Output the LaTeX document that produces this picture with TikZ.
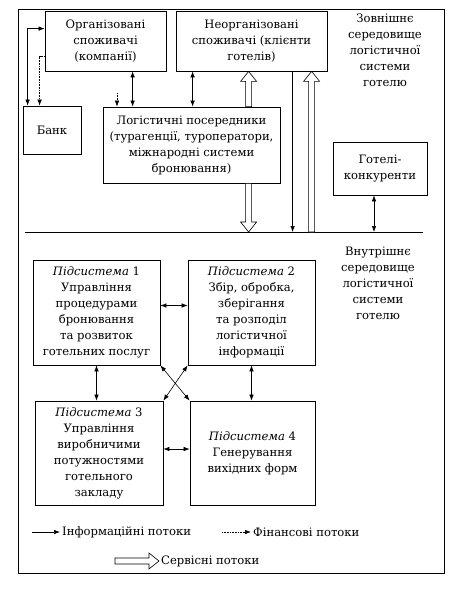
\documentclass[tikz,border=0pt]{standalone}
\usepackage{fontspec}
\setmainfont{DejaVu Serif}
\usetikzlibrary{calc}
\usetikzlibrary{arrows.meta}

\tikzset{
  blok/.style={draw, line width=0.8pt, align=center, inner sep=2pt},
  potik/.style={line width=0.6pt},
  finpotik/.style={line width=0.6pt, densely dotted},
  servis/.style={line width=0.6pt, fill=white},
}
% hollow (service) arrow from #1 to #2
\newcommand{\servisarrow}[2]{%
  \coordinate (sh) at ($(#2)!10pt!(#1)$);
  \draw[servis] ($(#1)!3pt!90:(#2)$) -- ($(sh)!3pt!-90:(#1)$) -- ($(sh)!8pt!-90:(#1)$)
    -- (#2) -- ($(sh)!8pt!90:(#1)$) -- ($(sh)!3pt!90:(#1)$) -- ($(#1)!3pt!-90:(#2)$) -- cycle;}

\begin{document}
\begin{tikzpicture}[x=1pt, y=-1pt, >={Latex[length=6pt,width=4.5pt]},
  font=\fontsize{11.6}{16}\selectfont]
\useasboundingbox (0,0) rectangle (468,594);
\draw[line width=0.8pt] (18,9) rectangle (444,573);

% external environment
\node[blok, minimum width=121, minimum height=60] (org) at (105.5,41)
  {Організовані\\споживачі\\(компанії)};
\node[blok, minimum width=151, minimum height=60] (unorg) at (251.5,41)
  {Неорганізовані\\споживачі (клієнти\\готелів)};
\node[blok, minimum width=58, minimum height=48] (bank) at (52,130) {Банк};
\node[blok, minimum width=177, minimum height=76] (log) at (191.5,145)
  {Логістичні посередники\\(турагенції, туроператори,\\міжнародні системи\\бронювання)};
\node[blok, minimum width=94, minimum height=53] (hotels) at (380,168.5)
  {Готелі-\\конкуренти};
\node[align=center] (zovn) at (385,50)
  {Зовнішнє\\середовище\\логістичної\\системи\\готелю};

\coordinate (mezhaL) at (25,232);
\coordinate (mezhaR) at (423,232);
\draw[line width=0.8pt] (mezhaL) -- (mezhaR);

\draw[potik,<->] ($(bank.north west)+(5,0)$) |- ($(org.north west)+(0,18)$);
\draw[finpotik,->] ($(org.north west)+(0,46)$) -| ($(bank.north west)+(17,0)$);
\coordinate (finstub) at (117,93);
\draw[finpotik,->] (finstub) -- (finstub |- log.north);
\draw[potik,<->] ($(org.south west)+(88,0)$) coordinate (a1) -- (a1 |- log.north);
\draw[potik,<->] ($(unorg.south west)+(17,0)$) coordinate (a2) -- (a2 |- log.north);
\draw[potik,->] ($(unorg.south west)+(117,0)$) coordinate (a3) -- (a3 |- mezhaL);
\draw[potik,<->] ($(hotels.south)+(-6,0)$) coordinate (a4) -- (a4 |- mezhaL);

\coordinate (s1a) at ($(log.north west)+(146,0)$);
\coordinate (s1b) at (s1a |- unorg.south);
\servisarrow{s1a}{s1b}
\coordinate (s2a) at ($(log.south west)+(146,0)$);
\coordinate (s2b) at (s2a |- mezhaL);
\servisarrow{s2a}{s2b}
\coordinate (s3a) at ($(unorg.south west)+(136,0)$);
\coordinate (s3b) at (s3a |- mezhaL);
\servisarrow{s3b}{s3a}

% internal environment
\node[align=center] (vnutr) at (378,283)
  {Внутрішнє\\середовище\\логістичної\\системи\\готелю};
\node[blok, minimum width=127, minimum height=105] (sub1) at (96.5,312.5)
  {\textit{Підсистема} 1\\Управління\\процедурами\\бронювання\\та розвиток\\готельних послуг};
\node[blok, minimum width=127, minimum height=105] (sub2) at (251.5,312.5)
  {\textit{Підсистема} 2\\Збір, обробка,\\зберігання\\та розподіл\\логістичної\\інформації};
\node[blok, minimum width=128, minimum height=104] (sub3) at (99,453)
  {\textit{Підсистема} 3\\Управління\\виробничими\\потужностями\\готельного\\закладу};
\node[blok, minimum width=125, minimum height=104] (sub4) at (252.5,453)
  {\textit{Підсистема} 4\\Генерування\\вихідних форм};

\draw[potik,<->] ($(sub1.east)+(0,-7)$) coordinate (b1) -- (b1 -| sub2.west);
\draw[potik,<->] ($(sub3.east)+(0,-4)$) coordinate (b2) -- (b2 -| sub4.west);
\draw[potik,<->] (sub1.south) -- (sub1.south |- sub3.north);
\draw[potik,<->] (sub2.south) -- (sub2.south |- sub4.north);
\draw[potik,<->] (sub1.south east) -- (sub4.north west);
\draw[potik,<->] (sub2.south west) -- (sub3.north east);

% legend
\coordinate (leg1) at (32,532);
\node[anchor=west, inner sep=2pt] (leg1t) at (60,532) {Інформаційні потоки};
\draw[potik,->] (leg1) -- (leg1t.west);
\coordinate (leg2) at (222,532);
\node[anchor=west, inner sep=2pt] (leg2t) at (251,532) {Фінансові потоки};
\draw[finpotik,->] (leg2) -- (leg2t.west);
\coordinate (leg3) at (115,561);
\node[anchor=west, inner sep=2pt] (leg3t) at (159,561) {Сервісні потоки};
\coordinate (leg3e) at (leg3t.west);
\servisarrow{leg3}{leg3e}
\end{tikzpicture}
\end{document}
